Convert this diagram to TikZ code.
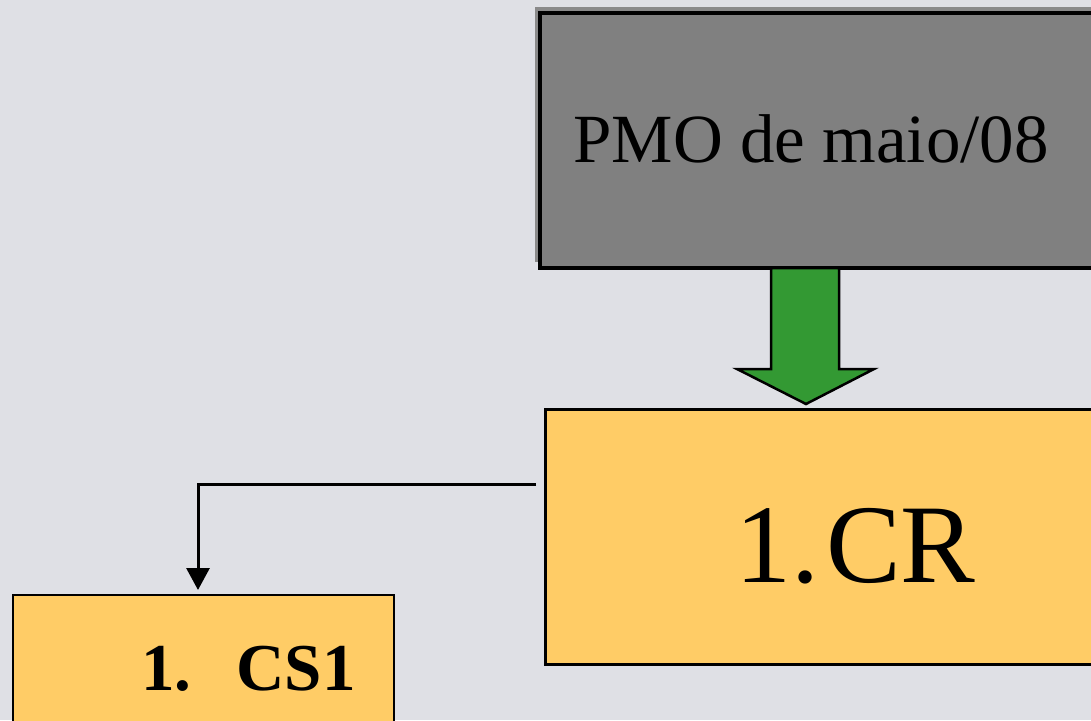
\documentclass[tikz,border=0pt]{standalone}
\usepackage{fontspec}
\setmainfont{Liberation Serif}
\usetikzlibrary{arrows.meta,calc}
\definecolor{bgc}{HTML}{DFE0E5}
\definecolor{boxgray}{HTML}{808080}
\definecolor{edgegray}{HTML}{8A8A8A}
\definecolor{arrowgreen}{HTML}{339933}
\definecolor{boxyellow}{HTML}{FFCC66}
\tikzset{
  yellowbox/.style={draw=black, fill=boxyellow, line width=3pt, rectangle, inner sep=0pt},
  graybox/.style={draw=black, fill=boxgray, line width=3.5pt, rectangle, inner sep=0pt},
  link/.style={draw=black, line width=3pt, -{Triangle[length=22pt,width=23pt]}},
  blockarrow/.style={draw=black, fill=arrowgreen, line width=2.5pt, line join=miter},
}
\begin{document}
\begin{tikzpicture}[x=1pt, y=-1pt]
  % canvas
  \fill[bgc] (0,0) rectangle (1091,720);
  \useasboundingbox (0,0) rectangle (1091,720);

  % grey title box with its offset fill
  \fill[edgegray] (535,7) rectangle (1100,262);
  \node[graybox, minimum width=560pt, minimum height=255pt, anchor=north west] (pmo) at (538,11) {};
  \node[anchor=base, font=\fontsize{69}{80}\selectfont] (pmotext) at (811,162) {PMO de maio/08};

  % yellow boxes
  \node[yellowbox, minimum width=560pt, minimum height=255pt, anchor=north west] (cr) at (544,408) {};
  \node[anchor=base west, inner sep=0pt, font=\fontsize{112}{130}\selectfont] (crtext) at (735,582) {1.\hspace{7pt}CR};

  \node[yellowbox, line width=2pt, minimum width=381pt, minimum height=200pt, anchor=north west] (cs1) at (12,594) {};
  \node[anchor=base west, inner sep=0pt, font=\bfseries\fontsize{67}{80}\selectfont] (cs1text) at (141,690) {1.\hspace{45pt}CS1};

  % green block arrow from the title box down to CR
  \draw[blockarrow] (771,268) coordinate (ga) -- (839,268) -- (839,369) -- (874,369)
    -- (806,404) coordinate (gtip) -- (737,369) -- (771,369) -- cycle;

  % connector from CR to CS1
  \coordinate (cstart) at (536,484);
  \draw[link] (cstart) -| ($(cs1.north)+(-5.5,-4)$);
\end{tikzpicture}
\end{document}
